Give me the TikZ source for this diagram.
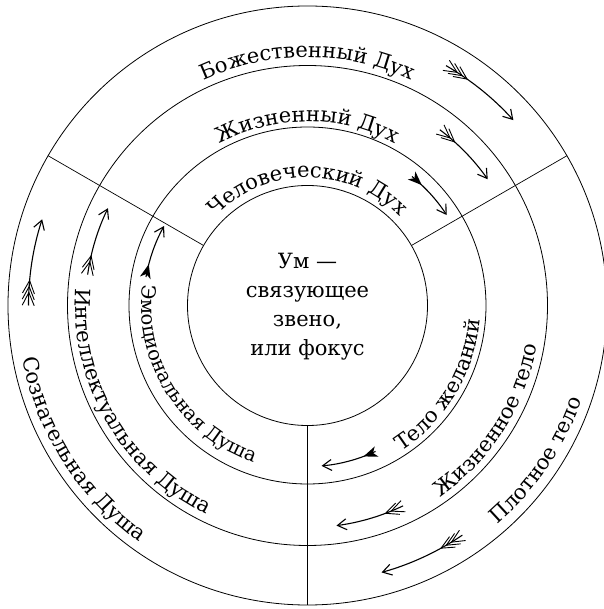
\documentclass[tikz,border=0pt]{standalone}
\usepackage{fontspec}
\setmainfont{DejaVu Serif}
\newfontfamily\ringfont{DejaVu Serif}
\usetikzlibrary{decorations.text,arrows.meta}
\tikzset{
  ring/.style={line width=0.8pt},
  divider/.style={line width=0.7pt},
  shaft/.style={line width=1.1pt,-{Straight Barb[length=9pt,width=11pt,line width=1.1pt]}},
  feather/.style={line width=0.9pt},
  ringtext/.style={decorate,decoration={text along path,text align=center,
      text={|\ringfont\fontsize{21}{21}\selectfont|#1}}},
  ringtextsmall/.style={decorate,decoration={text along path,text align=center,
      text={|\ringfont\fontsize{19.5}{20}\selectfont|#1}}}
}
% #1 radius, #2 tail angle, #3 head angle, #4 number of chevrons (0 = filled)
\newcommand\featherarrow[4]{%
  \draw[shaft] (#2:#1) arc[start angle=#2,end angle=#3,radius=#1];
  \ifnum#4=0
    \pgfmathsetmacro\fa{#2-(13/#1)*57.2958}
    \begin{scope}[shift={(\fa:#1)},rotate=\fa-90]
      \fill (0,0) -- (-14,5.5) -- (-10,0) -- (-14,-5.5) -- cycle;
    \end{scope}
  \else
    \foreach \k in {1,...,#4}{
      \pgfmathsetmacro\fa{#2-((7+6*\k)/#1)*57.2958}
      \begin{scope}[shift={(\fa:#1)},rotate=\fa-90]
        \draw[feather] (-13,6) -- (0,0) -- (-13,-6);
      \end{scope}
    }
  \fi
}
\begin{document}
\begin{tikzpicture}[x=1pt,y=1pt]
\useasboundingbox (-307.5,-303.5) rectangle (295.5,305.5);
% rings
\draw[ring] (0,0) circle[radius=299.5];
\draw[ring] (0,0) circle[radius=240];
\draw[ring] (0,0) circle[radius=178.5];
\draw[ring] (0,0) circle[radius=120];
% dividers
\draw[divider] (30:120) -- (30:299.5);
\draw[divider] (150:120) -- (150:299.5);
\draw[divider] (270:120) -- (270:299.5);
% centre text
\node[font=\fontsize{21}{29}\selectfont,align=center] (mind) at (0,-1)
  {Ум —\\связующее\\звено,\\или фокус};
% upper texts (spirit)
\path[ringtext={Божественный Дух}] (150:248) arc[start angle=150,end angle=30,radius=248];
\path[ringtext={Жизненный Дух}] (150:184) arc[start angle=150,end angle=30,radius=184];
\path[ringtext={Человеческий Дух}] (160:128) arc[start angle=160,end angle=20,radius=128];
% left texts (soul)
\path[ringtext={Сознательная Душа}] (150:290) arc[start angle=150,end angle=275,radius=290];
\path[ringtext={Интеллектуальная Душа}] (145:232) arc[start angle=145,end angle=275,radius=232];
\path[ringtextsmall={Эмоциональная Душа}] (142:166) arc[start angle=142,end angle=282,radius=166];
% right texts (body)
\path[ringtext={Плотное тело}] (-95:290) arc[start angle=-95,end angle=27,radius=290];
\path[ringtext={Жизненное тело}] (-95:233) arc[start angle=-95,end angle=30,radius=233];
\path[ringtext={Тело желаний}] (-92:173) arc[start angle=-92,end angle=30,radius=173];
% arrows
\featherarrow{277}{60}{42}{3}
\featherarrow{220}{53}{35}{2}
\featherarrow{166}{51}{33}{0}
\featherarrow{279}{180}{162}{3}
\featherarrow{222}{172}{154}{2}
\featherarrow{164}{170}{151}{0}
\featherarrow{277}{-56}{-74.5}{3}
\featherarrow{222}{-64.5}{-82.5}{2}
\featherarrow{161}{-65}{-85}{0}
\end{tikzpicture}
\end{document}
